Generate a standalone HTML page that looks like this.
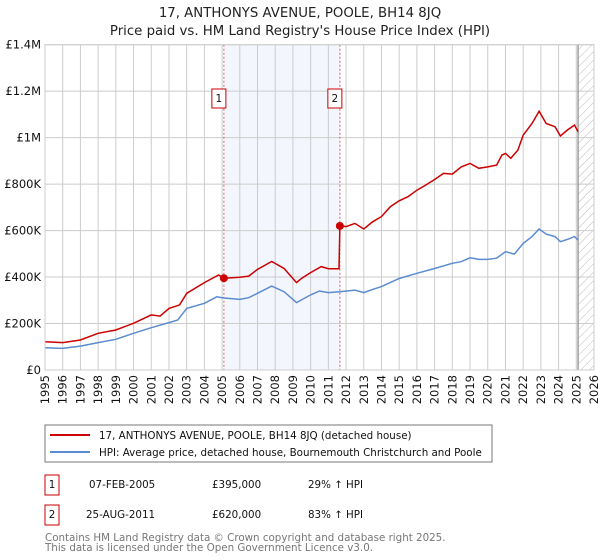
<!DOCTYPE html>
<html><head><meta charset="utf-8"><style>
body{margin:0;background:#fff;font-family:"DejaVu Sans","Liberation Sans",sans-serif;}
svg{display:block}
</style></head><body>
<svg id="c" width="600" height="560" xmlns="http://www.w3.org/2000/svg" font-family="DejaVu Sans, Liberation Sans, sans-serif">
<defs><pattern id="hatch" width="6" height="6" patternUnits="userSpaceOnUse" patternTransform="rotate(45)"><line x1="0" y1="0" x2="0" y2="6" stroke="#bbb" stroke-width="1"/></pattern></defs>
<text x="300" y="17" text-anchor="middle" font-size="13.3" fill="#222">17, ANTHONYS AVENUE, POOLE, BH14 8JQ</text>
<text x="300" y="35" text-anchor="middle" font-size="13.3" fill="#222">Price paid vs. HM Land Registry's House Price Index (HPI)</text>
<g id="plot"></g>
<rect x="45" y="425" width="447" height="37" fill="#fff" stroke="#777"/>
<line x1="50" y1="435" x2="90" y2="435" stroke="#cc0000" stroke-width="2"/>
<text x="99" y="439" font-size="10.3" fill="#111">17, ANTHONYS AVENUE, POOLE, BH14 8JQ (detached house)</text>
<line x1="50" y1="452" x2="90" y2="452" stroke="#5b8bd0" stroke-width="2"/>
<text x="99" y="456" font-size="10.3" fill="#111">HPI: Average price, detached house, Bournemouth Christchurch and Poole</text>
<g font-size="10.3" fill="#111">
<rect x="45" y="475" width="14" height="20" fill="#fff" stroke="#cc0000"/>
<text x="52" y="488" text-anchor="middle">1</text>
<text x="89" y="488">07-FEB-2005</text>
<text x="212" y="488">£395,000</text>
<text x="308" y="488">29% ↑ HPI</text>
<rect x="45" y="505" width="14" height="20" fill="#fff" stroke="#cc0000"/>
<text x="52" y="518" text-anchor="middle">2</text>
<text x="86" y="518">25-AUG-2011</text>
<text x="212" y="518">£620,000</text>
<text x="308" y="518">83% ↑ HPI</text>
</g>
<text x="45" y="541" font-size="10.3" fill="#777">Contains HM Land Registry data © Crown copyright and database right 2025.</text>
<text x="45" y="551" font-size="10.3" fill="#777">This data is licensed under the Open Government Licence v3.0.</text>
</svg>
<script>
const hpiYears=[1995,1996,1997,1998,1999,2000,2001,2002,2002.5,2003,2004,2004.7,2005.1,2006,2006.5,2007,2007.8,2008.5,2009.2,2010,2010.5,2011,2011.65,2012.5,2013,2013.5,2014,2015,2016,2017,2018,2018.5,2019,2019.5,2020,2020.5,2021,2021.5,2022,2022.5,2022.9,2023.3,2023.8,2024.1,2024.5,2024.9,2025.1];
const hpiValues=[96,93,103,118,132,158,182,204,215,265,287,315,310,304,311,330,361,337,290,323,340,333,337,344,333,347,359,394,416,437,459,466,483,476,476,481,509,499,545,574,607,585,574,552,562,574,559];
const priceYears=[1995,1996,1997,1998,1999,2000,2001,2001.5,2002,2002.6,2003,2004,2004.8,2005.1,2006,2006.5,2007,2007.8,2008.5,2009.2,2009.5,2010,2010.6,2011,2011.6,2011.65,2012,2012.5,2013,2013.5,2014,2014.5,2015,2015.5,2016,2016.5,2017,2017.5,2018,2018.5,2019,2019.5,2020,2020.5,2020.8,2021,2021.3,2021.7,2022,2022.5,2022.9,2023.3,2023.8,2024.1,2024.5,2024.9,2025.1];
const priceValues=[122,118,129,158,172,201,237,232,265,280,330,376,409,395,399,404,433,467,437,376,395,419,445,436,436,621,617,631,607,638,660,703,728,746,774,796,820,846,843,874,889,868,874,882,925,932,911,946,1011,1061,1114,1061,1047,1007,1033,1054,1025];
const saleYears=[2005.1,2011.65];
const saleValues=[395,620];
const saleLabels=["1","2"];
const yTicks=[0,200,400,600,800,1000,1200,1400];
const yTickLabels=["£0","£200K","£400K","£600K","£800K","£1M","£1.2M","£1.4M"];
const xTicks=[1995,1996,1997,1998,1999,2000,2001,2002,2003,2004,2005,2006,2007,2008,2009,2010,2011,2012,2013,2014,2015,2016,2017,2018,2019,2020,2021,2022,2023,2024,2025,2026];

const X0=45,X1=594,Y0=370,Y1=44.7,XMIN=1995,XMAX=2026,YMAX=1400,FUT=2025.1;
const sx=v=>X0+(v-XMIN)/(XMAX-XMIN)*(X1-X0);
const sy=v=>Y0-v/YMAX*(Y0-Y1);
const NS="http://www.w3.org/2000/svg";
const g=document.getElementById('plot');
function mk(t,a){const e=document.createElementNS(NS,t);for(const k in a)e.setAttribute(k,a[k]);g.appendChild(e);return e;}
let e;
e=mk('rect',{x:sx(saleYears[0]),y:Y1,width:sx(saleYears[1])-sx(saleYears[0]),height:Y0-Y1,fill:'#f3f6fd'});


e=mk('rect',{x:sx(FUT),y:Y1,width:X1-sx(FUT),height:Y0-Y1,fill:'url(#hatch)'});


yTicks.forEach((v,i)=>{
 e=mk('line',{x1:X0,x2:X1,y1:sy(v),y2:sy(v),stroke:'#ccc'});
 
 
 e=mk('text',{x:X0-4,y:sy(v)+4,'text-anchor':'end','font-size':'11.5',fill:'#111'});e.textContent=yTickLabels[i];
 
 
});
xTicks.forEach(v=>{
 e=mk('line',{x1:sx(v),x2:sx(v),y1:Y1,y2:Y0,stroke:'#ccc'});
 
 
 e=mk('text',{x:0,y:0,'font-size':'11.5',fill:'#111','text-anchor':'end',transform:`translate(${sx(v)+4},${Y0+5}) rotate(-90)`});e.textContent=v;
 
 
});
e=mk('line',{x1:sx(FUT),x2:sx(FUT),y1:Y1,y2:Y0,stroke:'#888','stroke-width':1.2});


saleYears.forEach((y,i)=>{
 e=mk('line',{x1:sx(y),x2:sx(y),y1:Y1,y2:Y0,stroke:'#e06060','stroke-dasharray':'2,2'});
 
 
 e=mk('rect',{x:sx(y)-12,y:89,width:14,height:19,fill:'#fff',stroke:'#cc0000'});
 
 
 e=mk('text',{x:sx(y)-5,y:102,'text-anchor':'middle','font-size':'10.5',fill:'#111'});e.textContent=saleLabels[i];
 
 
});
const path=(xs,vs)=>xs.map((x,i)=>(i?'L':'M')+sx(x).toFixed(1)+','+sy(vs[i]).toFixed(1)).join('');
e=mk('path',{d:path(hpiYears,hpiValues),fill:'none',stroke:'#5b8bd0','stroke-width':1.5});


e=mk('path',{d:path(priceYears,priceValues),fill:'none',stroke:'#cc0000','stroke-width':1.5});


saleYears.forEach((y,i)=>{
 e=mk('circle',{cx:sx(y),cy:sy(saleValues[i]),r:4,fill:'#cc0000'});
 
 
});
e=mk('rect',{x:X0,y:Y1,width:X1-X0,height:Y0-Y1,fill:'none',stroke:'#ccc'});


</script>
</body></html>
